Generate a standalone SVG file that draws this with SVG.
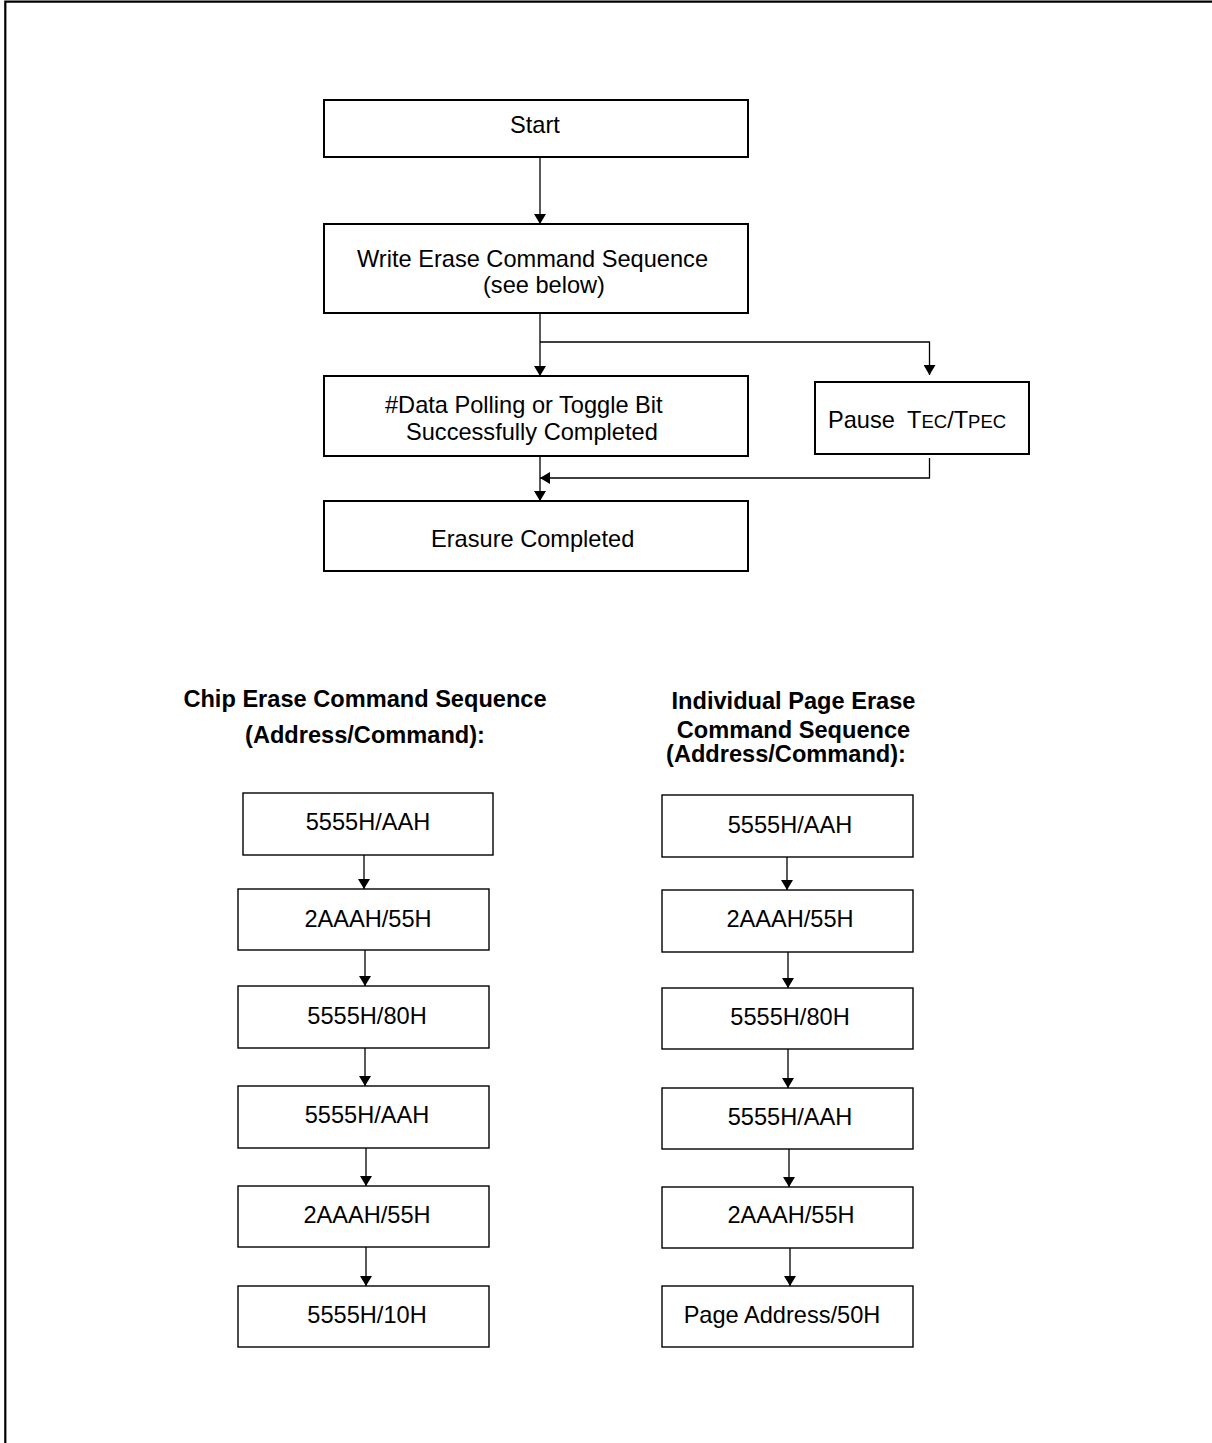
<svg xmlns="http://www.w3.org/2000/svg" width="1212" height="1443" viewBox="0 0 1212 1443">
  <style>
    text { font-family: "Liberation Sans", Arial, sans-serif; font-size: 23.6px; fill: #000; }
    .h { font-weight: bold; }
    .sc { font-size: 18.5px; }
    .box { fill: #fff; stroke: #000; stroke-width: 2; }
    .sbox { fill: #fff; stroke: #000; stroke-width: 1.4; }
    .wire { fill: none; stroke: #000; stroke-width: 1.3; }
    .frame { fill: none; stroke: #000; stroke-width: 2.2; }
  </style>
  <defs>
    <marker id="arrow" viewBox="0 0 10 12" refX="10" refY="6" markerWidth="10" markerHeight="12" markerUnits="userSpaceOnUse" orient="auto">
      <path d="M0,0 L10,6 L0,12 z" fill="#000"/>
    </marker>
  </defs>

  <rect width="1212" height="1443" fill="#fff"/>
  <path class="frame" d="M1212,1.7 H5.3 V1443"/>

  <!-- erase flow -->
  <g id="start">
    <rect class="box" x="324" y="100" width="424" height="57"/>
    <text x="535" y="133" text-anchor="middle">Start</text>
  </g>
  <g id="write-erase">
    <rect class="box" x="324" y="224" width="424" height="89"/>
    <text x="357" y="267">Write Erase Command Sequence</text>
    <text x="483" y="293">(see below)</text>
  </g>
  <g id="polling">
    <rect class="box" x="324" y="376" width="424" height="80"/>
    <text x="385" y="413">#Data Polling or Toggle Bit</text>
    <text x="406" y="440">Successfully Completed</text>
  </g>
  <g id="pause">
    <rect class="box" x="815" y="382" width="214" height="72"/>
    <text y="428"><tspan x="828">Pause</tspan><tspan x="907">T</tspan><tspan class="sc">EC</tspan><tspan>/T</tspan><tspan class="sc">PEC</tspan></text>
  </g>
  <g id="erasure-completed">
    <rect class="box" x="324" y="501" width="424" height="70"/>
    <text x="431" y="547">Erasure Completed</text>
  </g>

  <!-- headings -->
  <g id="chip-heading">
    <text class="h" x="365" y="707" text-anchor="middle">Chip Erase Command Sequence</text>
    <text class="h" x="365" y="743" text-anchor="middle">(Address/Command):</text>
  </g>
  <g id="page-heading">
    <text class="h" x="793.5" y="709" text-anchor="middle">Individual Page Erase</text>
    <text class="h" x="793.5" y="738" text-anchor="middle">Command Sequence</text>
    <text class="h" x="786" y="762" text-anchor="middle">(Address/Command):</text>
  </g>

  <!-- chip erase sequence -->
  <g id="chip-1">
    <rect class="sbox" x="243" y="793" width="250" height="62"/>
    <text x="368" y="830" text-anchor="middle">5555H/AAH</text>
  </g>
  <g id="chip-2">
    <rect class="sbox" x="238" y="889" width="251" height="61"/>
    <text x="368" y="927" text-anchor="middle">2AAAH/55H</text>
  </g>
  <g id="chip-3">
    <rect class="sbox" x="238" y="986" width="251" height="62"/>
    <text x="367" y="1024" text-anchor="middle">5555H/80H</text>
  </g>
  <g id="chip-4">
    <rect class="sbox" x="238" y="1086" width="251" height="62"/>
    <text x="367" y="1123" text-anchor="middle">5555H/AAH</text>
  </g>
  <g id="chip-5">
    <rect class="sbox" x="238" y="1186" width="251" height="61"/>
    <text x="367" y="1223" text-anchor="middle">2AAAH/55H</text>
  </g>
  <g id="chip-6">
    <rect class="sbox" x="238" y="1286" width="251" height="61"/>
    <text x="367" y="1323" text-anchor="middle">5555H/10H</text>
  </g>

  <!-- page erase sequence -->
  <g id="page-1">
    <rect class="sbox" x="662" y="795" width="251" height="62"/>
    <text x="790" y="833" text-anchor="middle">5555H/AAH</text>
  </g>
  <g id="page-2">
    <rect class="sbox" x="662" y="890" width="251" height="62"/>
    <text x="790" y="927" text-anchor="middle">2AAAH/55H</text>
  </g>
  <g id="page-3">
    <rect class="sbox" x="662" y="988" width="251" height="61"/>
    <text x="790" y="1025" text-anchor="middle">5555H/80H</text>
  </g>
  <g id="page-4">
    <rect class="sbox" x="662" y="1088" width="251" height="61"/>
    <text x="790" y="1125" text-anchor="middle">5555H/AAH</text>
  </g>
  <g id="page-5">
    <rect class="sbox" x="662" y="1187" width="251" height="61"/>
    <text x="791" y="1223" text-anchor="middle">2AAAH/55H</text>
  </g>
  <g id="page-6">
    <rect class="sbox" x="662" y="1286" width="251" height="61"/>
    <text x="782" y="1323" text-anchor="middle">Page Address/50H</text>
  </g>

  <!-- connectors -->
  <g id="connectors" class="wire">
    <path class="wire" d="M540,157 V224" marker-end="url(#arrow)"/>
    <path class="wire" d="M540,313 V376" marker-end="url(#arrow)"/>
    <path class="wire" d="M540,342 H929.5 V375" marker-end="url(#arrow)"/>
    <path class="wire" d="M929.5,458 V478 H540" marker-end="url(#arrow)"/>
    <path class="wire" d="M540,456 V501" marker-end="url(#arrow)"/>

    <path class="wire" d="M364,855 V889" marker-end="url(#arrow)"/>
    <path class="wire" d="M365,950 V986" marker-end="url(#arrow)"/>
    <path class="wire" d="M365,1048 V1086" marker-end="url(#arrow)"/>
    <path class="wire" d="M366,1148 V1186" marker-end="url(#arrow)"/>
    <path class="wire" d="M366,1247 V1286" marker-end="url(#arrow)"/>

    <path class="wire" d="M787,857 V890" marker-end="url(#arrow)"/>
    <path class="wire" d="M788,952 V988" marker-end="url(#arrow)"/>
    <path class="wire" d="M788,1049 V1088" marker-end="url(#arrow)"/>
    <path class="wire" d="M789,1149 V1187" marker-end="url(#arrow)"/>
    <path class="wire" d="M790,1248 V1286" marker-end="url(#arrow)"/>
  </g>
</svg>
